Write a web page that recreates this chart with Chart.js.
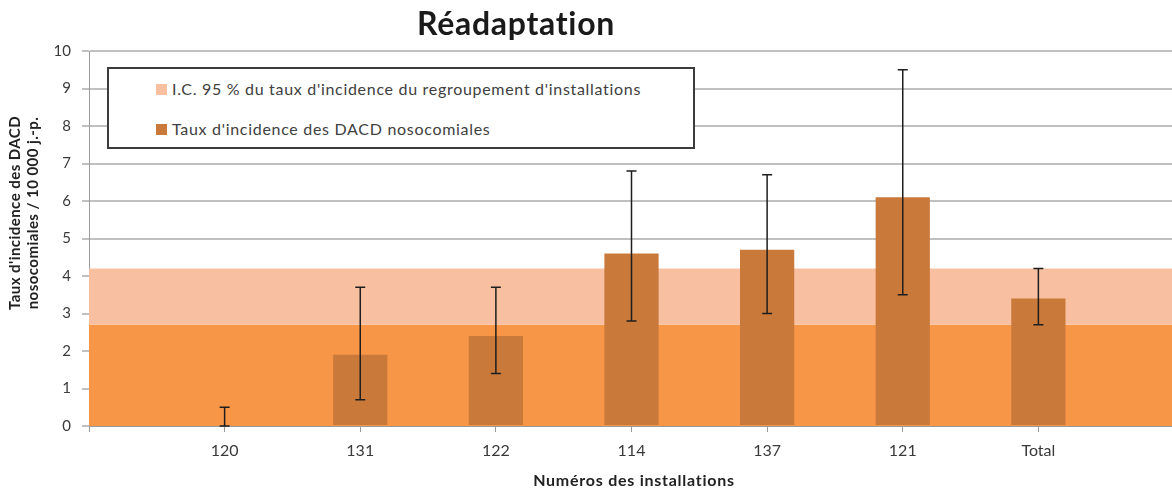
<!DOCTYPE html>
<html><head><meta charset="utf-8">
<script src="https://cdn.jsdelivr.net/npm/chart.js@4.4.1/dist/chart.umd.min.js"></script>
<style>
html,body{margin:0;padding:0;overflow:hidden;background:#fff;width:1172px;height:491px;}
#wrap{position:absolute;left:0;top:0;width:1184px;height:491px;}
#title{position:absolute;left:0;top:5px;width:1032px;text-align:center;font:bold 32px Lato,"Open Sans",sans-serif;letter-spacing:0.7px;color:#1a1a1a;line-height:36px;}
#legend{position:absolute;left:107px;top:67px;width:588px;height:82px;box-sizing:border-box;border:2px solid #3c3c3c;background:#fff;font:16px Lato,"Open Sans",sans-serif;letter-spacing:0.7px;color:#404040;}
.li{position:absolute;left:47px;height:20px;line-height:20px;white-space:nowrap;}
.sw{display:inline-block;width:11px;height:11px;margin-right:5px;vertical-align:0px;}
#ytitle{position:absolute;left:-123px;top:191px;width:300px;height:44px;line-height:22px;text-align:center;transform:rotate(-90deg);transform-origin:center center;font:bold 15px Lato,"Open Sans",sans-serif;letter-spacing:0.45px;color:#222;white-space:nowrap;}
#xtitle{position:absolute;left:434px;top:470px;width:400px;text-align:center;line-height:20px;font:bold 16px Lato,"Open Sans",sans-serif;letter-spacing:0.75px;color:#222;}
</style>
</head><body>
<div id="wrap">
<canvas id="c" width="1183" height="491"></canvas>
<div id="title"></div>
<div id="legend"></div>
<div id="ytitle"></div>
<div id="xtitle"></div>
</div>
<script>
const chartTitle = 'Réadaptation';
const categories = ['120','131','122','114','137','121','Total'];
const rates   = [0, 1.9, 2.4, 4.6, 4.7, 6.1, 3.4];
const ciLower = [0, 0.7, 1.4, 2.8, 3.0, 3.5, 2.7];
const ciUpper = [0.5, 3.7, 3.7, 6.8, 6.7, 9.5, 4.2];
const groupLower = 2.7;
const groupUpper = 4.2;
const yMin = 0, yMax = 10, yStep = 1;
const labelCI = "I.C. 95 % du taux d'incidence du regroupement d'installations";
const labelRate = "Taux d'incidence des DACD nosocomiales";
const xTitle = 'Numéros des installations';
const yTitle = ["Taux d'incidence des DACD", 'nosocomiales / 10 000 j.-p.'];

const colBar = '#C97A3B';
const colBandDark = '#F79646';
const colBandLight = '#F8C0A1';

document.getElementById('title').textContent = chartTitle;
document.getElementById('xtitle').textContent = xTitle;
const yt = document.getElementById('ytitle');
yTitle.forEach(t => { const d = document.createElement('div'); d.textContent = t; yt.appendChild(d); });
const lg = document.getElementById('legend');
[[labelCI, colBandLight, 10], [labelRate, colBar, 50]].forEach(([t, c, top]) => {
  const d = document.createElement('div');
  d.className = 'li'; d.style.top = top + 'px';
  const s = document.createElement('span'); s.className = 'sw'; s.style.background = c;
  d.appendChild(s); d.appendChild(document.createTextNode(t));
  lg.appendChild(d);
});

const labels = ['', ...categories, ''];

const errorBars = {
  id: 'errorBars',
  afterDatasetsDraw(chart) {
    const meta = chart.getDatasetMeta(0);
    const y = chart.scales.y;
    const ctx = chart.ctx;
    ctx.save();
    ctx.strokeStyle = '#1e1e1e';
    ctx.lineWidth = 1.5;
    categories.forEach((c, i) => {
      const el = meta.data[i + 1];
      if (!el) return;
      const x = el.x;
      const y1 = y.getPixelForValue(ciLower[i]);
      const y2 = y.getPixelForValue(ciUpper[i]);
      ctx.beginPath();
      ctx.moveTo(x, y1); ctx.lineTo(x, y2);
      ctx.moveTo(x - 5, y1); ctx.lineTo(x + 5, y1);
      ctx.moveTo(x - 5, y2); ctx.lineTo(x + 5, y2);
      ctx.stroke();
    });
    ctx.restore();
  }
};

new Chart(document.getElementById('c'), {
  type: 'bar',
  data: {
    labels,
    datasets: [
      { type: 'bar', label: labelRate, data: [null, ...rates, null], backgroundColor: colBar,
        barPercentage: 0.4, categoryPercentage: 1, order: 0 },
      { type: 'line', label: 'lower', data: labels.map(() => groupLower), fill: 'origin',
        backgroundColor: colBandDark, borderColor: 'rgba(0,0,0,0)', borderWidth: 0, pointRadius: 0, order: 2 },
      { type: 'line', label: labelCI, data: labels.map(() => groupUpper), fill: '-1',
        backgroundColor: colBandLight, borderColor: 'rgba(0,0,0,0)', borderWidth: 0, pointRadius: 0, order: 1 }
    ]
  },
  options: {
    responsive: false,
    animation: false,
    layout: { padding: { top: 51, right: 0, left: 0, bottom: 0 } },
    plugins: { legend: { display: false }, tooltip: { enabled: false }, title: { display: false } },
    scales: {
      x: {
        type: 'category', offset: false,
        grid: { offset: false, drawOnChartArea: false, drawTicks: true, tickLength: 6, color: '#9a9a9a' },
        border: { color: '#9a9a9a', width: 1 },
        ticks: { font: { family: 'Lato', size: 16 }, color: '#3a3a3a', padding: 9, autoSkip: false, maxRotation: 0 },
        afterFit: s => { s.height = 65; }
      },
      y: {
        min: yMin, max: yMax,
        ticks: { stepSize: yStep, font: { family: 'Lato', size: 15 }, color: '#3a3a3a', padding: 11 },
        grid: { color: '#c0c0c0', lineWidth: 2, tickLength: 7 },
        border: { color: '#9a9a9a', width: 1 },
        afterFit: s => { s.width = 89; }
      }
    }
  },
  plugins: [errorBars]
});
</script>
</body></html>
